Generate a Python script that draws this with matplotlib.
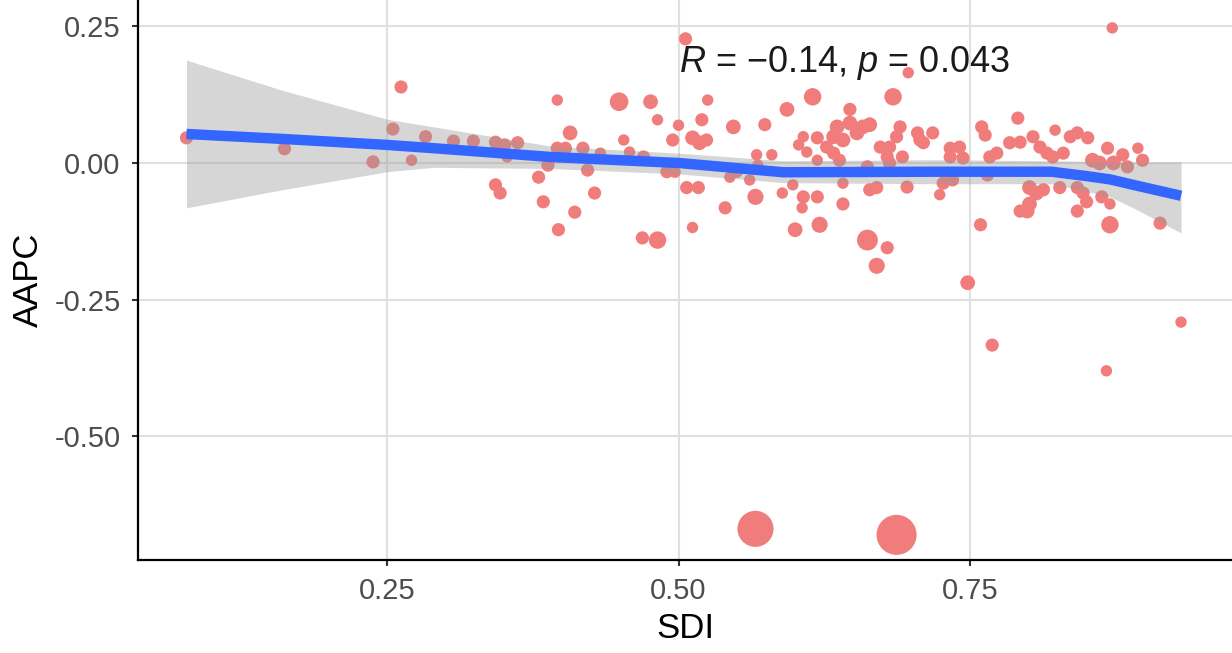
import matplotlib
matplotlib.use("Agg")
import matplotlib.pyplot as plt
import numpy as np

#------------------DATA-------------------------------------------
# one point per country: SDI, AAPC and a population-like weight for the size
sdi = [0.078, 0.162, 0.238, 0.262, 0.255, 0.271, 0.283, 0.307, 0.324, 0.343,
       0.351, 0.362, 0.353, 0.343, 0.347, 0.380, 0.384, 0.388, 0.396, 0.396,
       0.403, 0.407, 0.397, 0.411, 0.418, 0.422, 0.428, 0.433, 0.449, 0.453,
       0.458, 0.476, 0.482, 0.470, 0.490, 0.469, 0.482, 0.495, 0.500, 0.497,
       0.506, 0.512, 0.518, 0.524, 0.520, 0.525, 0.507, 0.517, 0.512, 0.540,
       0.547, 0.544, 0.550, 0.561, 0.566, 0.567, 0.568, 0.574, 0.580, 0.589,
       0.593, 0.598, 0.600, 0.603, 0.606, 0.607, 0.610, 0.615, 0.619, 0.619,
       0.619, 0.621, 0.627, 0.633, 0.633, 0.636, 0.638, 0.641, 0.641, 0.641,
       0.647, 0.647, 0.653, 0.658, 0.662, 0.662, 0.664, 0.664, 0.670, 0.670,
       0.673, 0.679, 0.679, 0.681, 0.681, 0.684, 0.687, 0.690, 0.692, 0.696,
       0.697, 0.705, 0.707, 0.710, 0.718, 0.724, 0.727, 0.733, 0.733, 0.735,
       0.741, 0.744, 0.748, 0.759, 0.760, 0.763, 0.765, 0.767, 0.769, 0.773,
       0.784, 0.791, 0.793, 0.793, 0.799, 0.801, 0.801, 0.804, 0.807, 0.810,
       0.813, 0.816, 0.821, 0.823, 0.827, 0.830, 0.836, 0.842, 0.842, 0.842,
       0.847, 0.850, 0.851, 0.855, 0.861, 0.863, 0.867, 0.868, 0.870, 0.870,
       0.872, 0.873, 0.881, 0.885, 0.894, 0.898, 0.913, 0.931, 0.566, 0.687,
       0.607]
aapc = [0.046, 0.026, 0.002, 0.139, 0.062, 0.005, 0.048, 0.040, 0.040, 0.038,
        0.033, 0.037, 0.011, -0.040, -0.055, -0.026, -0.071, -0.004, 0.115, 0.027,
        0.027, 0.055, -0.122, -0.090, 0.027, -0.013, -0.055, 0.018, 0.112, 0.042,
        0.020, 0.112, 0.079, 0.011, -0.016, -0.137, -0.141, 0.042, 0.069, -0.017,
        0.227, 0.046, 0.037, 0.042, 0.079, 0.115, -0.045, -0.045, -0.118, -0.082,
        0.066, -0.026, -0.017, -0.031, -0.062, 0.015, -0.004, 0.070, 0.015, -0.055,
        0.098, -0.040, -0.122, 0.033, -0.082, -0.062, 0.020, 0.121, 0.046, 0.005,
        -0.062, -0.113, 0.029, 0.048, 0.018, 0.066, 0.005, 0.042, -0.037, -0.075,
        0.073, 0.098, 0.055, 0.066, -0.007, -0.141, 0.070, -0.049, -0.045, -0.188,
        0.029, 0.011, -0.155, 0.029, 0.000, 0.121, 0.048, 0.066, 0.011, -0.044,
        0.165, 0.055, 0.042, 0.037, 0.055, -0.058, -0.037, 0.027, 0.011, -0.031,
        0.029, 0.009, -0.219, -0.113, 0.066, 0.051, -0.022, 0.011, -0.333, 0.018,
        0.037, 0.082, 0.038, -0.088, -0.088, -0.045, -0.075, 0.048, -0.055, 0.029,
        -0.049, 0.018, 0.011, 0.060, -0.045, 0.018, 0.048, 0.055, -0.045, -0.088,
        -0.055, -0.071, 0.046, 0.005, 0.000, -0.062, -0.380, 0.027, -0.075, -0.113,
        0.247, 0.000, 0.015, -0.007, 0.027, 0.005, -0.110, -0.291, -0.669, -0.680,
        0.048]
pop = [2, 2, 2, 2, 2, 1.5, 2, 2, 2, 2,
       2, 2, 1.5, 2, 2, 2, 2, 2, 1.5, 2,
       2, 2.5, 2, 2, 2, 2, 2, 1.5, 4, 1.5,
       1.5, 2.5, 1.5, 2, 2, 2, 3.5, 2, 1.5, 1.5,
       2, 2.5, 2.5, 2, 2, 1.5, 2, 2, 1.5, 2,
       2.5, 1.5, 1.5, 1.5, 3, 1.5, 1.5, 2, 1.5, 1.5,
       2.5, 1.5, 2.5, 1.5, 1.5, 2, 1.5, 3.5, 2, 1.5,
       2, 3, 2, 2.5, 2, 2.5, 2, 2.5, 1.5, 2,
       2.5, 2, 2.5, 2.5, 2, 5, 2.5, 2, 2, 3,
       2, 2, 2, 2, 2, 3.5, 2, 2, 2, 2,
       1.5, 2, 2, 2, 2, 1.5, 2, 2, 2, 2,
       2, 2, 2.5, 2, 2, 2, 2, 2, 2, 2,
       2, 2, 2, 2, 2.5, 2.5, 2.5, 2, 2.5, 2,
       2, 2, 2, 1.5, 2, 2, 2, 2, 2, 2,
       2, 2, 2, 2.5, 2.5, 2, 1.5, 2, 1.5, 3.5,
       1.5, 2.5, 2, 2, 1.5, 2, 2, 1.5, 15, 18.5,
       1.5]

# loess fit and its confidence band
smooth_x = [0.078, 0.16, 0.25, 0.29, 0.39, 0.50, 0.59, 0.72, 0.82, 0.85, 0.87, 0.89, 0.931]
smooth_y = [0.053, 0.044, 0.033, 0.027, 0.011, 0.000, -0.017, -0.016, -0.016, -0.024, -0.030, -0.040, -0.060]
band_hi = [0.188, 0.133, 0.080, 0.066, 0.031, 0.018, 0.004, 0.006, 0.004, 0.003, 0.002, 0.002, 0.002]
band_lo = [-0.082, -0.049, -0.016, -0.008, -0.010, -0.020, -0.036, -0.038, -0.038, -0.052, -0.062, -0.082, -0.128]

x_ticks = [0.25, 0.50, 0.75]
x_tick_labels = ["0.25", "0.50", "0.75"]
y_ticks = [-0.50, -0.25, 0.00, 0.25]
y_tick_labels = ["-0.50", "-0.25", "0.00", "0.25"]
cor_label = r"$R$ = −0.14, $p$ = 0.043"

#------------------PLOT------------------------------
plt.rcParams["font.family"] = ["Liberation Sans", "DejaVu Sans"]
plt.rcParams["mathtext.fontset"] = "custom"
plt.rcParams["mathtext.it"] = "Liberation Sans:italic"
plt.rcParams["mathtext.rm"] = "Liberation Sans"

fig = plt.figure(figsize=(12.32, 6.53), dpi=100)
ax = fig.add_axes([138 / 1232, 93 / 653, 1 - 138 / 1232, 1 - 93 / 653])

ax.scatter(sdi, aapc, s=np.array(pop) * 45, color="#F07C7C", edgecolors="none", zorder=2)
ax.fill_between(smooth_x, band_lo, band_hi, color="#999999", alpha=0.4, lw=0, zorder=3)
ax.plot(smooth_x, smooth_y, color="#3366FF", lw=7.5, solid_capstyle="butt", zorder=4)

ax.text(0.50, 0.183, cor_label, fontsize=26, ha="left", va="center", color="#1A1A1A", zorder=5)

ax.set_xlim(0.0364, 0.9747)
ax.set_ylim(-0.726, 0.298)
ax.set_xticks(x_ticks, x_tick_labels)
ax.set_yticks(y_ticks, y_tick_labels)
ax.grid(color="#E0E0E0", lw=1.5)
ax.set_axisbelow(True)

for side in ["top", "right"]:
    ax.spines[side].set_visible(False)
for side in ["left", "bottom"]:
    ax.spines[side].set_color("black")
    ax.spines[side].set_linewidth(1.6)

ax.tick_params(labelsize=21, labelcolor="#4D4D4D", color="#333333", length=4.5, width=1.5, pad=8)
ax.set_xlabel("SDI", fontsize=25, labelpad=5)
ax.set_ylabel("AAPC", fontsize=25, labelpad=7)

fig.savefig("out.png", dpi=100)
plt.close(fig)
